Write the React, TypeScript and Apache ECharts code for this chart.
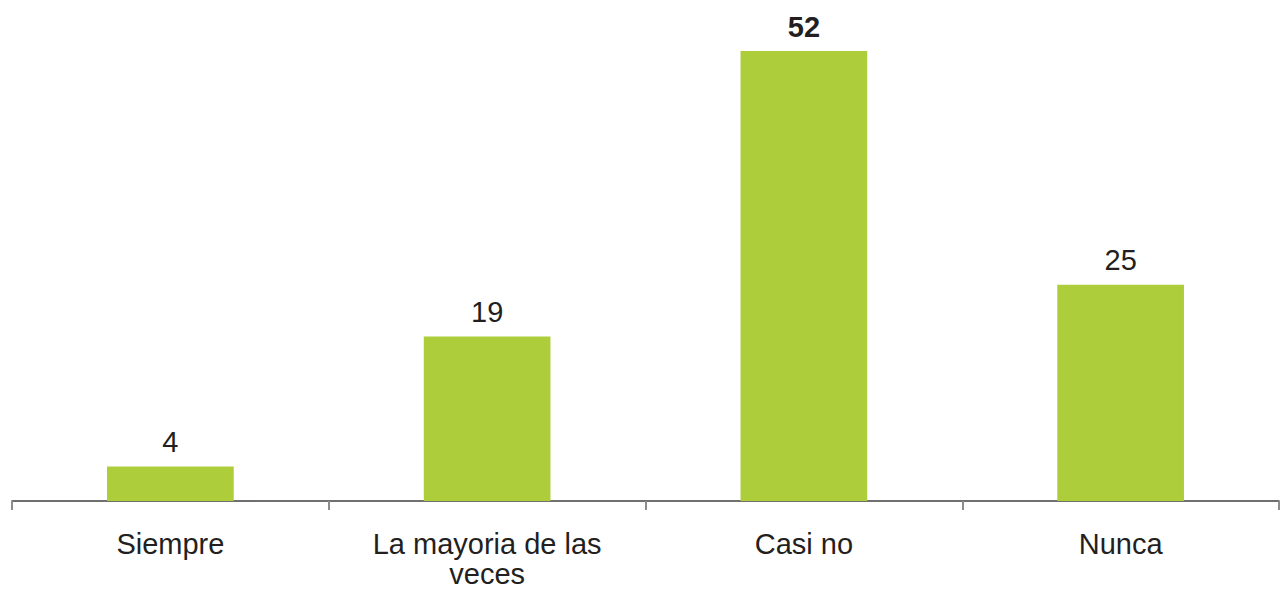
import React, { useEffect, useRef } from "react";
import * as echarts from "echarts";

const categories = ["Siempre", "La mayoria de las\nveces", "Casi no", "Nunca"];
const values = [4, 19, 52, 25];
const boldIndex = [2];

export default function App() {
  const ref = useRef<HTMLDivElement>(null);
  useEffect(() => {
    if (!ref.current) return;
    const chart = echarts.init(ref.current, undefined, { renderer: "svg" });
    const font = "'Liberation Sans', Arial, sans-serif";
    chart.setOption({
      animation: false,
      backgroundColor: "#ffffff",
      grid: { left: 12, right: 1, top: 51, bottom: 86, containLabel: false },
      xAxis: {
        type: "category",
        data: categories,
        axisLine: { show: true, lineStyle: { color: "#404040", width: 1.5 } },
        axisTick: { show: true, length: 9, lineStyle: { color: "#8c8c8c", width: 2 } },
        axisLabel: {
          color: "#231f20",
          fontFamily: font,
          fontSize: 29,
          lineHeight: 30,
          margin: 28,
          interval: 0,
        },
      },
      yAxis: {
        type: "value",
        min: 0,
        max: 52,
        show: false,
        splitLine: { show: false },
      },
      series: [
        {
          type: "bar",
          barWidth: "40%",
          data: values.map((v, i) => ({
            value: v,
            label: {
              fontWeight: boldIndex.includes(i) ? "bold" : "normal",
            },
          })),
          itemStyle: { color: "#adcd3b" },
          label: {
            show: true,
            position: "top",
            distance: 10,
            color: "#231f20",
            fontFamily: font,
            fontSize: 29,
          },
        },
      ],
    });
    return () => chart.dispose();
  }, []);
  return (
    <div
      ref={ref}
      style={{ position: "fixed", left: 0, top: 0, width: 1280, height: 589 }}
    />
  );
}
